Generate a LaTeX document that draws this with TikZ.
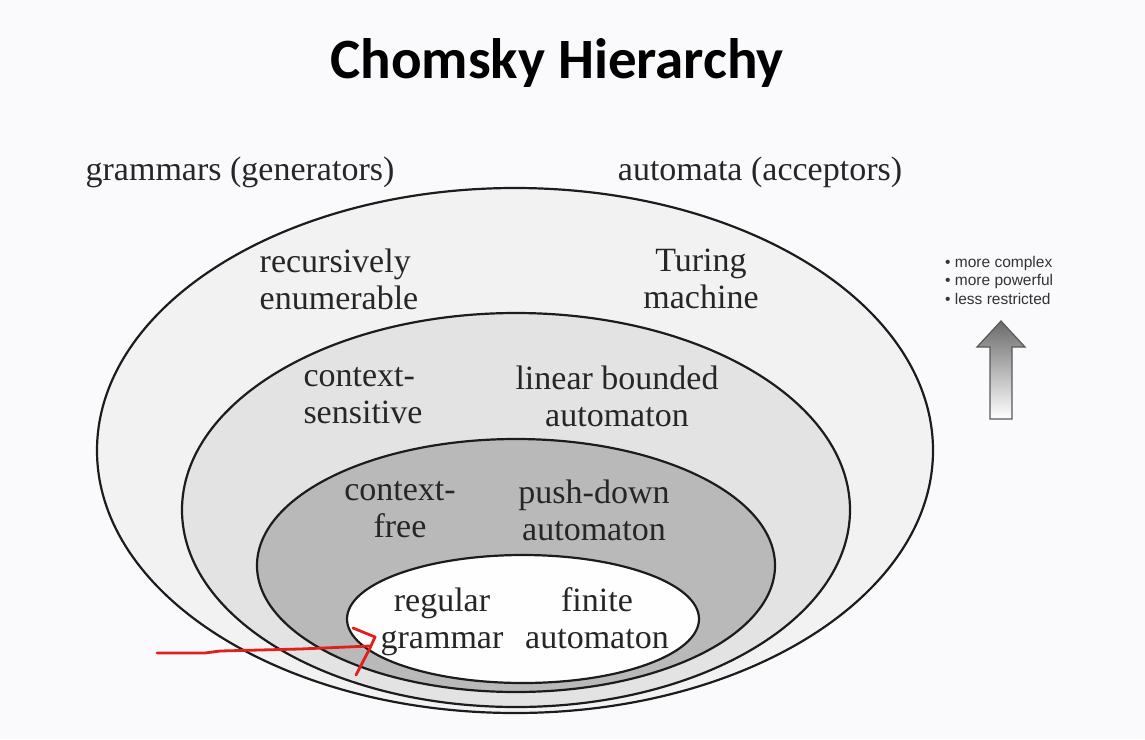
\documentclass[tikz,border=0pt]{standalone}
\usepackage{fontspec}
\setmainfont{Liberation Serif}
\newfontfamily\titlefont{Carlito}
\newfontfamily\notefont{Liberation Sans}
\definecolor{pagebg}{HTML}{FAFAFD}
\definecolor{reband}{HTML}{F2F2F2}
\definecolor{csband}{HTML}{E3E3E3}
\definecolor{cfband}{HTML}{B9B9B9}
\definecolor{rgband}{HTML}{FEFEFE}
\definecolor{edge}{HTML}{1C1C1C}
\definecolor{notegray}{HTML}{333333}
\definecolor{marker}{HTML}{E0201C}
\tikzset{
  level/.style={draw=edge, line width=2.2pt},
  lbl/.style={font=\fontsize{34}{37}\selectfont, text=black!85, inner sep=0pt, align=center},
  lbll/.style={lbl, align=left},
  ink/.style={marker, line width=2.8pt, line cap=round, line join=round},
}
\begin{document}
\begin{tikzpicture}[x=1pt,y=-1pt]
  % page
  \fill[pagebg] (0,0) rectangle (1145,739);
  \useasboundingbox (0,0) rectangle (1145,739);

  % title
  \node (title) at (557,63) {\titlefont\bfseries\fontsize{57}{60}\selectfont Chomsky Hierarchy};

  % column headings
  \node[lbl] (gram) at (240,172) {grammars (generators)};
  \node[lbl] (auto) at (760,172) {automata (acceptors)};

  % nested language classes
  \path[level, fill=reband] (515,450.5) ellipse [x radius=418pt, y radius=262.5pt];
  \path[level, fill=csband] (516,510) ellipse [x radius=334pt, y radius=197pt];
  \path[level, fill=cfband] (516,565.5) ellipse [x radius=259pt, y radius=126.5pt];
  \path[level, fill=rgband] (523,619) ellipse [x radius=176pt, y radius=64pt];

  % class labels
  \node[lbll] (re)  at (339,279) {recursively\\enumerable};
  \node[lbl]  (tm)  at (701,279) {Turing\\machine};
  \node[lbll] (cs)  at (363,396) {context-\\sensitive};
  \node[lbl]  (lba) at (617,396) {linear bounded\\automaton};
  \node[lbl]  (cf)  at (400,510) {context-\\free};
  \node[lbl]  (pda) at (594,510) {push-down\\automaton};
  \node[lbl]  (rg)  at (442,622) {regular\\grammar};
  \node[lbl]  (fa)  at (597,618) {finite\\automaton};

  % side note
  \node[anchor=west, align=left, inner sep=0pt, text=notegray,
        font=\notefont\fontsize{15.5}{18.5}\selectfont] (note) at (945,280)
       {• more complex\\• more powerful\\• less restricted};

  % direction arrow
  \path[draw=black!65, line width=1.2pt, line join=miter,
        top color=black!58, bottom color=white]
    (1001,321) -- (1025,347) -- (1012,347) -- (1012,419)
    -- (990,419) -- (990,347) -- (977,347) -- cycle;

  % hand-drawn marker
  \draw[ink] (157,653) -- (205,653) -- (220,651) -- (300,649) -- (370,646);
  \draw[ink] (353,628) -- (375,637) -- (370,648) -- (356,675);
\end{tikzpicture}
\end{document}
